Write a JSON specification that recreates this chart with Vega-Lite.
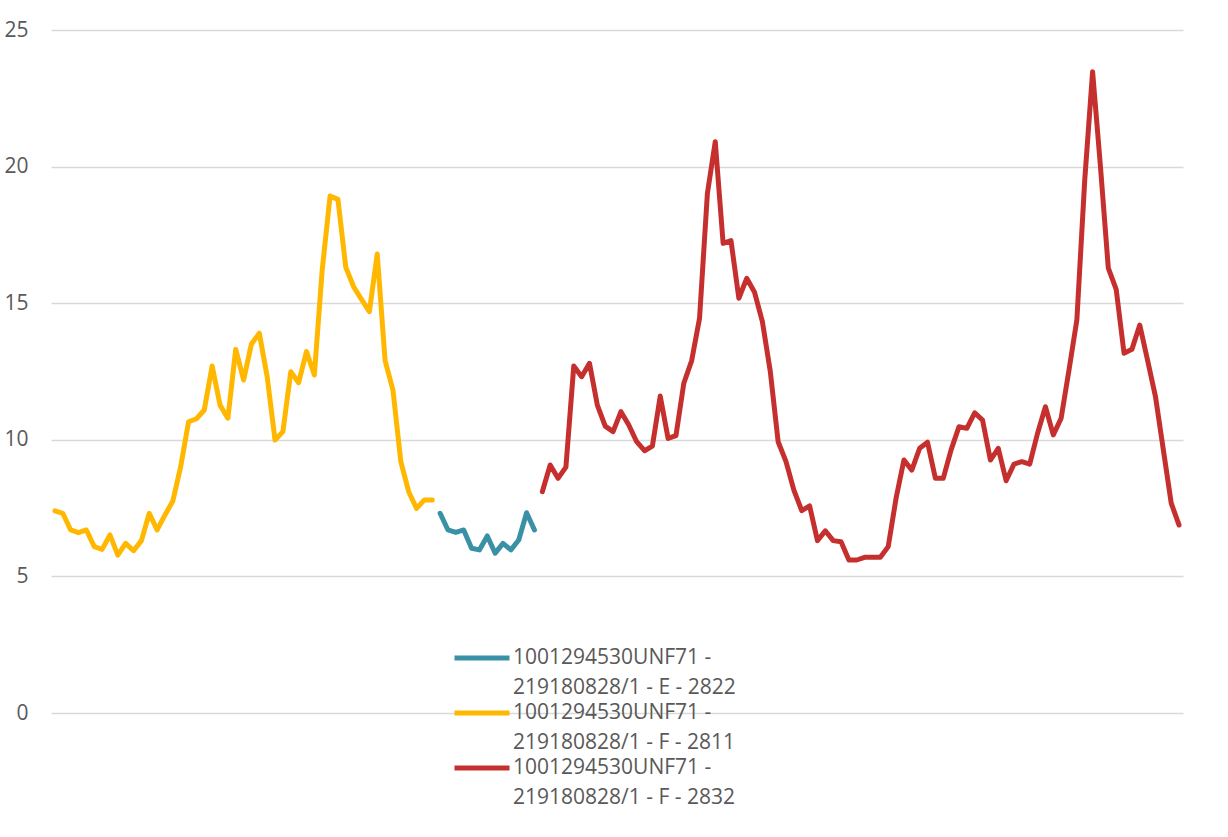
{
  "$schema": "https://vega.github.io/schema/vega-lite/v6.json",
  "width": 1132,
  "height": 683,
  "autosize": {"type": "none"},
  "padding": {"left": 51, "top": 30, "right": 45, "bottom": 124},
  "background": "#ffffff",
  "config": {
    "view": {"stroke": null},
    "font": "Open Sans",
    "style": {"guide-label": {"lineHeight": 30}}
  },
  "data": {
    "values": [
      {"i": 0, "series": "1001294530UNF71 - 219180828/1 - F - 2811", "v": 7.40},
      {"i": 1, "series": "1001294530UNF71 - 219180828/1 - F - 2811", "v": 7.31},
      {"i": 2, "series": "1001294530UNF71 - 219180828/1 - F - 2811", "v": 6.70},
      {"i": 3, "series": "1001294530UNF71 - 219180828/1 - F - 2811", "v": 6.60},
      {"i": 4, "series": "1001294530UNF71 - 219180828/1 - F - 2811", "v": 6.70},
      {"i": 5, "series": "1001294530UNF71 - 219180828/1 - F - 2811", "v": 6.09},
      {"i": 6, "series": "1001294530UNF71 - 219180828/1 - F - 2811", "v": 5.99},
      {"i": 7, "series": "1001294530UNF71 - 219180828/1 - F - 2811", "v": 6.52},
      {"i": 8, "series": "1001294530UNF71 - 219180828/1 - F - 2811", "v": 5.78},
      {"i": 9, "series": "1001294530UNF71 - 219180828/1 - F - 2811", "v": 6.21},
      {"i": 10, "series": "1001294530UNF71 - 219180828/1 - F - 2811", "v": 5.94},
      {"i": 11, "series": "1001294530UNF71 - 219180828/1 - F - 2811", "v": 6.31},
      {"i": 12, "series": "1001294530UNF71 - 219180828/1 - F - 2811", "v": 7.31},
      {"i": 13, "series": "1001294530UNF71 - 219180828/1 - F - 2811", "v": 6.70},
      {"i": 14, "series": "1001294530UNF71 - 219180828/1 - F - 2811", "v": 7.25},
      {"i": 15, "series": "1001294530UNF71 - 219180828/1 - F - 2811", "v": 7.76},
      {"i": 16, "series": "1001294530UNF71 - 219180828/1 - F - 2811", "v": 9.02},
      {"i": 17, "series": "1001294530UNF71 - 219180828/1 - F - 2811", "v": 10.66},
      {"i": 18, "series": "1001294530UNF71 - 219180828/1 - F - 2811", "v": 10.77},
      {"i": 19, "series": "1001294530UNF71 - 219180828/1 - F - 2811", "v": 11.09},
      {"i": 20, "series": "1001294530UNF71 - 219180828/1 - F - 2811", "v": 12.70},
      {"i": 21, "series": "1001294530UNF71 - 219180828/1 - F - 2811", "v": 11.27},
      {"i": 22, "series": "1001294530UNF71 - 219180828/1 - F - 2811", "v": 10.79},
      {"i": 23, "series": "1001294530UNF71 - 219180828/1 - F - 2811", "v": 13.31},
      {"i": 24, "series": "1001294530UNF71 - 219180828/1 - F - 2811", "v": 12.19},
      {"i": 25, "series": "1001294530UNF71 - 219180828/1 - F - 2811", "v": 13.51},
      {"i": 26, "series": "1001294530UNF71 - 219180828/1 - F - 2811", "v": 13.90},
      {"i": 27, "series": "1001294530UNF71 - 219180828/1 - F - 2811", "v": 12.31},
      {"i": 28, "series": "1001294530UNF71 - 219180828/1 - F - 2811", "v": 9.99},
      {"i": 29, "series": "1001294530UNF71 - 219180828/1 - F - 2811", "v": 10.30},
      {"i": 30, "series": "1001294530UNF71 - 219180828/1 - F - 2811", "v": 12.49},
      {"i": 31, "series": "1001294530UNF71 - 219180828/1 - F - 2811", "v": 12.09},
      {"i": 32, "series": "1001294530UNF71 - 219180828/1 - F - 2811", "v": 13.23},
      {"i": 33, "series": "1001294530UNF71 - 219180828/1 - F - 2811", "v": 12.37},
      {"i": 34, "series": "1001294530UNF71 - 219180828/1 - F - 2811", "v": 16.22},
      {"i": 35, "series": "1001294530UNF71 - 219180828/1 - F - 2811", "v": 18.92},
      {"i": 36, "series": "1001294530UNF71 - 219180828/1 - F - 2811", "v": 18.80},
      {"i": 37, "series": "1001294530UNF71 - 219180828/1 - F - 2811", "v": 16.31},
      {"i": 38, "series": "1001294530UNF71 - 219180828/1 - F - 2811", "v": 15.60},
      {"i": 39, "series": "1001294530UNF71 - 219180828/1 - F - 2811", "v": 15.14},
      {"i": 40, "series": "1001294530UNF71 - 219180828/1 - F - 2811", "v": 14.69},
      {"i": 41, "series": "1001294530UNF71 - 219180828/1 - F - 2811", "v": 16.80},
      {"i": 42, "series": "1001294530UNF71 - 219180828/1 - F - 2811", "v": 12.90},
      {"i": 43, "series": "1001294530UNF71 - 219180828/1 - F - 2811", "v": 11.82},
      {"i": 44, "series": "1001294530UNF71 - 219180828/1 - F - 2811", "v": 9.20},
      {"i": 45, "series": "1001294530UNF71 - 219180828/1 - F - 2811", "v": 8.10},
      {"i": 46, "series": "1001294530UNF71 - 219180828/1 - F - 2811", "v": 7.49},
      {"i": 47, "series": "1001294530UNF71 - 219180828/1 - F - 2811", "v": 7.80},
      {"i": 48, "series": "1001294530UNF71 - 219180828/1 - F - 2811", "v": 7.80},
      {"i": 49, "series": "1001294530UNF71 - 219180828/1 - E - 2822", "v": 7.31},
      {"i": 50, "series": "1001294530UNF71 - 219180828/1 - E - 2822", "v": 6.70},
      {"i": 51, "series": "1001294530UNF71 - 219180828/1 - E - 2822", "v": 6.61},
      {"i": 52, "series": "1001294530UNF71 - 219180828/1 - E - 2822", "v": 6.70},
      {"i": 53, "series": "1001294530UNF71 - 219180828/1 - E - 2822", "v": 6.03},
      {"i": 54, "series": "1001294530UNF71 - 219180828/1 - E - 2822", "v": 5.97},
      {"i": 55, "series": "1001294530UNF71 - 219180828/1 - E - 2822", "v": 6.48},
      {"i": 56, "series": "1001294530UNF71 - 219180828/1 - E - 2822", "v": 5.85},
      {"i": 57, "series": "1001294530UNF71 - 219180828/1 - E - 2822", "v": 6.21},
      {"i": 58, "series": "1001294530UNF71 - 219180828/1 - E - 2822", "v": 5.97},
      {"i": 59, "series": "1001294530UNF71 - 219180828/1 - E - 2822", "v": 6.33},
      {"i": 60, "series": "1001294530UNF71 - 219180828/1 - E - 2822", "v": 7.33},
      {"i": 61, "series": "1001294530UNF71 - 219180828/1 - E - 2822", "v": 6.70},
      {"i": 62, "series": "1001294530UNF71 - 219180828/1 - F - 2832", "v": 8.10},
      {"i": 63, "series": "1001294530UNF71 - 219180828/1 - F - 2832", "v": 9.08},
      {"i": 64, "series": "1001294530UNF71 - 219180828/1 - F - 2832", "v": 8.59},
      {"i": 65, "series": "1001294530UNF71 - 219180828/1 - F - 2832", "v": 9.00},
      {"i": 66, "series": "1001294530UNF71 - 219180828/1 - F - 2832", "v": 12.70},
      {"i": 67, "series": "1001294530UNF71 - 219180828/1 - F - 2832", "v": 12.31},
      {"i": 68, "series": "1001294530UNF71 - 219180828/1 - F - 2832", "v": 12.80},
      {"i": 69, "series": "1001294530UNF71 - 219180828/1 - F - 2832", "v": 11.27},
      {"i": 70, "series": "1001294530UNF71 - 219180828/1 - F - 2832", "v": 10.50},
      {"i": 71, "series": "1001294530UNF71 - 219180828/1 - F - 2832", "v": 10.30},
      {"i": 72, "series": "1001294530UNF71 - 219180828/1 - F - 2832", "v": 11.03},
      {"i": 73, "series": "1001294530UNF71 - 219180828/1 - F - 2832", "v": 10.54},
      {"i": 74, "series": "1001294530UNF71 - 219180828/1 - F - 2832", "v": 9.93},
      {"i": 75, "series": "1001294530UNF71 - 219180828/1 - F - 2832", "v": 9.60},
      {"i": 76, "series": "1001294530UNF71 - 219180828/1 - F - 2832", "v": 9.77},
      {"i": 77, "series": "1001294530UNF71 - 219180828/1 - F - 2832", "v": 11.60},
      {"i": 78, "series": "1001294530UNF71 - 219180828/1 - F - 2832", "v": 10.05},
      {"i": 79, "series": "1001294530UNF71 - 219180828/1 - F - 2832", "v": 10.15},
      {"i": 80, "series": "1001294530UNF71 - 219180828/1 - F - 2832", "v": 12.07},
      {"i": 81, "series": "1001294530UNF71 - 219180828/1 - F - 2832", "v": 12.90},
      {"i": 82, "series": "1001294530UNF71 - 219180828/1 - F - 2832", "v": 14.45},
      {"i": 83, "series": "1001294530UNF71 - 219180828/1 - F - 2832", "v": 19.02},
      {"i": 84, "series": "1001294530UNF71 - 219180828/1 - F - 2832", "v": 20.91},
      {"i": 85, "series": "1001294530UNF71 - 219180828/1 - F - 2832", "v": 17.19},
      {"i": 86, "series": "1001294530UNF71 - 219180828/1 - F - 2832", "v": 17.29},
      {"i": 87, "series": "1001294530UNF71 - 219180828/1 - F - 2832", "v": 15.18},
      {"i": 88, "series": "1001294530UNF71 - 219180828/1 - F - 2832", "v": 15.91},
      {"i": 89, "series": "1001294530UNF71 - 219180828/1 - F - 2832", "v": 15.40},
      {"i": 90, "series": "1001294530UNF71 - 219180828/1 - F - 2832", "v": 14.32},
      {"i": 91, "series": "1001294530UNF71 - 219180828/1 - F - 2832", "v": 12.50},
      {"i": 92, "series": "1001294530UNF71 - 219180828/1 - F - 2832", "v": 9.93},
      {"i": 93, "series": "1001294530UNF71 - 219180828/1 - F - 2832", "v": 9.20},
      {"i": 94, "series": "1001294530UNF71 - 219180828/1 - F - 2832", "v": 8.16},
      {"i": 95, "series": "1001294530UNF71 - 219180828/1 - F - 2832", "v": 7.41},
      {"i": 96, "series": "1001294530UNF71 - 219180828/1 - F - 2832", "v": 7.58},
      {"i": 97, "series": "1001294530UNF71 - 219180828/1 - F - 2832", "v": 6.31},
      {"i": 98, "series": "1001294530UNF71 - 219180828/1 - F - 2832", "v": 6.67},
      {"i": 99, "series": "1001294530UNF71 - 219180828/1 - F - 2832", "v": 6.31},
      {"i": 100, "series": "1001294530UNF71 - 219180828/1 - F - 2832", "v": 6.27},
      {"i": 101, "series": "1001294530UNF71 - 219180828/1 - F - 2832", "v": 5.60},
      {"i": 102, "series": "1001294530UNF71 - 219180828/1 - F - 2832", "v": 5.60},
      {"i": 103, "series": "1001294530UNF71 - 219180828/1 - F - 2832", "v": 5.70},
      {"i": 104, "series": "1001294530UNF71 - 219180828/1 - F - 2832", "v": 5.70},
      {"i": 105, "series": "1001294530UNF71 - 219180828/1 - F - 2832", "v": 5.70},
      {"i": 106, "series": "1001294530UNF71 - 219180828/1 - F - 2832", "v": 6.09},
      {"i": 107, "series": "1001294530UNF71 - 219180828/1 - F - 2832", "v": 7.86},
      {"i": 108, "series": "1001294530UNF71 - 219180828/1 - F - 2832", "v": 9.26},
      {"i": 109, "series": "1001294530UNF71 - 219180828/1 - F - 2832", "v": 8.89},
      {"i": 110, "series": "1001294530UNF71 - 219180828/1 - F - 2832", "v": 9.69},
      {"i": 111, "series": "1001294530UNF71 - 219180828/1 - F - 2832", "v": 9.91},
      {"i": 112, "series": "1001294530UNF71 - 219180828/1 - F - 2832", "v": 8.59},
      {"i": 113, "series": "1001294530UNF71 - 219180828/1 - F - 2832", "v": 8.59},
      {"i": 114, "series": "1001294530UNF71 - 219180828/1 - F - 2832", "v": 9.63},
      {"i": 115, "series": "1001294530UNF71 - 219180828/1 - F - 2832", "v": 10.48},
      {"i": 116, "series": "1001294530UNF71 - 219180828/1 - F - 2832", "v": 10.42},
      {"i": 117, "series": "1001294530UNF71 - 219180828/1 - F - 2832", "v": 10.99},
      {"i": 118, "series": "1001294530UNF71 - 219180828/1 - F - 2832", "v": 10.72},
      {"i": 119, "series": "1001294530UNF71 - 219180828/1 - F - 2832", "v": 9.26},
      {"i": 120, "series": "1001294530UNF71 - 219180828/1 - F - 2832", "v": 9.69},
      {"i": 121, "series": "1001294530UNF71 - 219180828/1 - F - 2832", "v": 8.50},
      {"i": 122, "series": "1001294530UNF71 - 219180828/1 - F - 2832", "v": 9.11},
      {"i": 123, "series": "1001294530UNF71 - 219180828/1 - F - 2832", "v": 9.20},
      {"i": 124, "series": "1001294530UNF71 - 219180828/1 - F - 2832", "v": 9.11},
      {"i": 125, "series": "1001294530UNF71 - 219180828/1 - F - 2832", "v": 10.24},
      {"i": 126, "series": "1001294530UNF71 - 219180828/1 - F - 2832", "v": 11.21},
      {"i": 127, "series": "1001294530UNF71 - 219180828/1 - F - 2832", "v": 10.18},
      {"i": 128, "series": "1001294530UNF71 - 219180828/1 - F - 2832", "v": 10.79},
      {"i": 129, "series": "1001294530UNF71 - 219180828/1 - F - 2832", "v": 12.56},
      {"i": 130, "series": "1001294530UNF71 - 219180828/1 - F - 2832", "v": 14.39},
      {"i": 131, "series": "1001294530UNF71 - 219180828/1 - F - 2832", "v": 19.51},
      {"i": 132, "series": "1001294530UNF71 - 219180828/1 - F - 2832", "v": 23.47},
      {"i": 133, "series": "1001294530UNF71 - 219180828/1 - F - 2832", "v": 20.00},
      {"i": 134, "series": "1001294530UNF71 - 219180828/1 - F - 2832", "v": 16.28},
      {"i": 135, "series": "1001294530UNF71 - 219180828/1 - F - 2832", "v": 15.51},
      {"i": 136, "series": "1001294530UNF71 - 219180828/1 - F - 2832", "v": 13.17},
      {"i": 137, "series": "1001294530UNF71 - 219180828/1 - F - 2832", "v": 13.31},
      {"i": 138, "series": "1001294530UNF71 - 219180828/1 - F - 2832", "v": 14.20},
      {"i": 139, "series": "1001294530UNF71 - 219180828/1 - F - 2832", "v": 12.90},
      {"i": 140, "series": "1001294530UNF71 - 219180828/1 - F - 2832", "v": 11.58},
      {"i": 141, "series": "1001294530UNF71 - 219180828/1 - F - 2832", "v": 9.63},
      {"i": 142, "series": "1001294530UNF71 - 219180828/1 - F - 2832", "v": 7.68},
      {"i": 143, "series": "1001294530UNF71 - 219180828/1 - F - 2832", "v": 6.88}
    ]
  },
  "mark": {"type": "line", "strokeWidth": 5, "strokeJoin": "round", "strokeCap": "round"},
  "encoding": {
    "x": {
      "field": "i",
      "type": "quantitative",
      "scale": {"domain": [-0.5, 143.5], "nice": false, "zero": false},
      "axis": null
    },
    "y": {
      "field": "v",
      "type": "quantitative",
      "scale": {"domain": [0, 25], "nice": false},
      "axis": {
        "title": null,
        "values": [0, 5, 10, 15, 20, 25],
        "domain": false,
        "ticks": false,
        "grid": true,
        "gridColor": "#D9D9D9",
        "gridWidth": 1.5,
        "labelFont": "Open Sans",
        "labelFontSize": 21,
        "labelColor": "#595959",
        "labelPadding": 23
      }
    },
    "color": {
      "field": "series",
      "type": "nominal",
      "scale": {
        "domain": [
          "1001294530UNF71 - 219180828/1 - E - 2822",
          "1001294530UNF71 - 219180828/1 - F - 2811",
          "1001294530UNF71 - 219180828/1 - F - 2832"
        ],
        "range": ["#3A91A5", "#FFB700", "#C5302E"]
      },
      "legend": {
        "title": null,
        "orient": "none",
        "legendX": 401,
        "legendY": 623,
        "direction": "vertical",
        "symbolType": "stroke",
        "symbolSize": 3025,
        "symbolStrokeWidth": 5,
        "clipHeight": 10,
        "labelFont": "Open Sans",
        "labelFontSize": 21,
        "labelColor": "#595959",
        "labelLimit": 500,
        "labelOffset": 1,
        "labelBaseline": "middle",
        "rowPadding": 4,
        "labelExpr": "[slice(datum.label, 0, 17), slice(datum.label, 18)]"
      }
    }
  }
}
